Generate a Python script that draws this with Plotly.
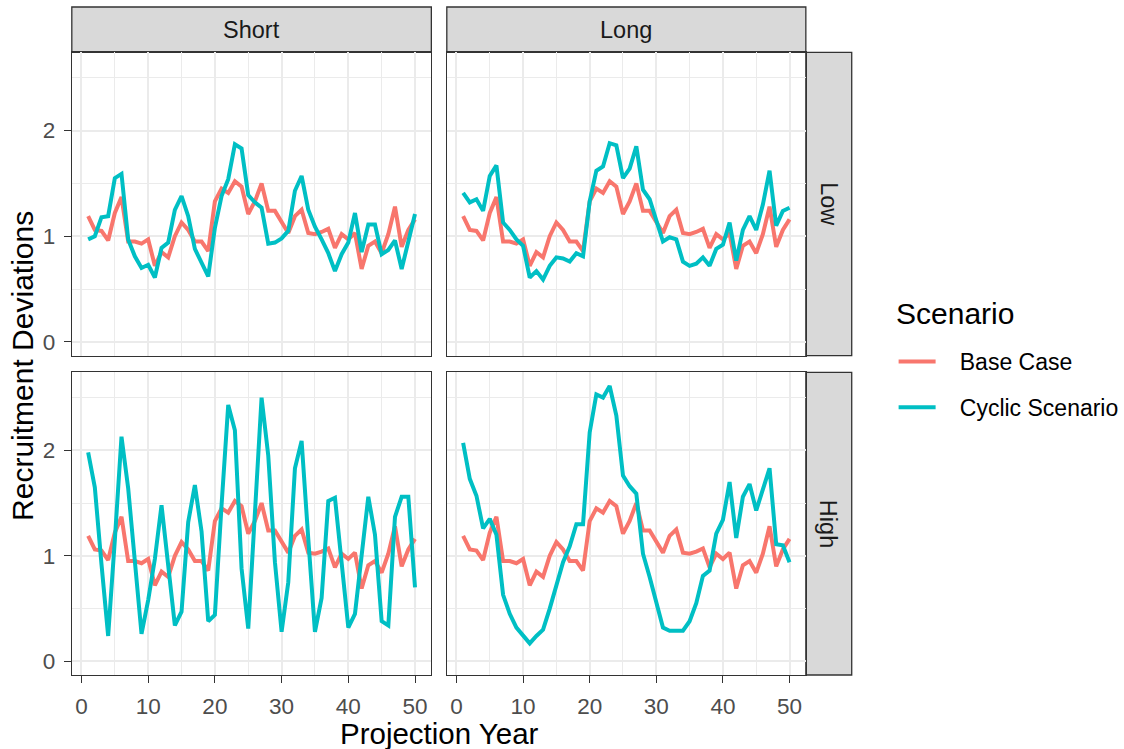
import plotly.graph_objects as go

# ---------------- data ----------------
years = list(range(1, 51))

base_case = [1.19, 1.06, 1.05, 0.96, 1.22, 1.37, 0.95, 0.95, 0.93, 0.97,
             0.72, 0.85, 0.80, 1.00, 1.13, 1.06, 0.95, 0.95, 0.86, 1.33,
             1.45, 1.41, 1.52, 1.47, 1.21, 1.33, 1.50, 1.24, 1.24, 1.14,
             1.03, 1.19, 1.25, 1.03, 1.02, 1.04, 1.07, 0.89, 1.02, 0.97,
             1.03, 0.69, 0.91, 0.95, 0.84, 1.02, 1.28, 0.90, 1.06, 1.16]

cyclic_short_low = [0.97, 1.00, 1.18, 1.19, 1.55, 1.59, 0.97, 0.81, 0.70, 0.73,
                    0.61, 0.89, 0.94, 1.25, 1.38, 1.19, 0.88, 0.76, 0.62, 1.08,
                    1.38, 1.54, 1.87, 1.83, 1.39, 1.32, 1.27, 0.93, 0.94, 0.98,
                    1.05, 1.43, 1.57, 1.25, 1.09, 0.97, 0.84, 0.67, 0.83, 0.94,
                    1.22, 0.85, 1.11, 1.11, 0.83, 0.87, 0.96, 0.69, 0.94, 1.21]

cyclic_long_low = [1.41, 1.32, 1.35, 1.24, 1.57, 1.67, 1.13, 1.06, 0.97, 0.91,
                   0.61, 0.67, 0.59, 0.72, 0.80, 0.79, 0.76, 0.84, 0.81, 1.33,
                   1.62, 1.66, 1.88, 1.86, 1.55, 1.64, 1.85, 1.44, 1.35, 1.14,
                   0.95, 0.99, 0.97, 0.76, 0.72, 0.74, 0.80, 0.72, 0.88, 0.92,
                   1.13, 0.77, 1.06, 1.19, 1.06, 1.30, 1.62, 1.10, 1.24, 1.27]

cyclic_short_high = [1.98, 1.65, 0.92, 0.24, 1.15, 2.13, 1.64, 0.94, 0.26, 0.58,
                     0.97, 1.48, 0.91, 0.34, 0.47, 1.32, 1.67, 1.23, 0.38, 0.44,
                     1.48, 2.43, 2.19, 0.88, 0.31, 1.38, 2.50, 1.95, 0.94, 0.28,
                     0.75, 1.83, 2.09, 1.16, 0.28, 0.60, 1.52, 1.55, 0.94, 0.32,
                     0.45, 1.00, 1.56, 1.20, 0.38, 0.34, 1.37, 1.56, 1.56, 0.70]

cyclic_long_high = [2.07, 1.73, 1.57, 1.26, 1.35, 1.20, 0.63, 0.45, 0.32, 0.24,
                    0.17, 0.24, 0.30, 0.50, 0.72, 0.94, 1.09, 1.30, 1.30, 2.17,
                    2.53, 2.50, 2.61, 2.33, 1.76, 1.66, 1.59, 1.02, 0.80, 0.55,
                    0.32, 0.29, 0.29, 0.29, 0.38, 0.55, 0.81, 0.86, 1.21, 1.34,
                    1.70, 1.17, 1.56, 1.68, 1.43, 1.64, 1.83, 1.11, 1.10, 0.94]

col_labels = ["Short", "Long"]
row_labels = ["Low", "High"]
series_names = ["Base Case", "Cyclic Scenario"]
legend_title = "Scenario"
x_ticks = [0, 10, 20, 30, 40, 50]
y_ticks = [0, 1, 2]

# ---------------- style ----------------
W, H = 1124, 749
FONT = "Liberation Sans, Arial, sans-serif"
RED, TEAL = "#F8766D", "#00BFC4"
GRID = "#EBEBEB"
BORDER = "#333333"
STRIP = "#D9D9D9"
NB = "\u00a0"

px = lambda v: v / W
py = lambda v: 1 - v / H

col_dom = [(72, 432.5), (448, 808)]
row_dom = [(52.3, 355.7), (372.3, 675)]
strip_top = (7, 52.3)
strip_right = (808, 854)

panels = {
    (0, 0): cyclic_short_low,
    (0, 1): cyclic_long_low,
    (1, 0): cyclic_short_high,
    (1, 1): cyclic_long_high,
}

fig = go.Figure()
layout_axes = {}
idx = 0
for r in range(2):
    for c in range(2):
        idx += 1
        xa = "x" if idx == 1 else f"x{idx}"
        ya = "y" if idx == 1 else f"y{idx}"
        fig.add_trace(go.Scatter(x=years, y=base_case, mode="lines",
                                 name=NB * 3 + series_names[0],
                                 line=dict(color=RED, width=4), xaxis=xa, yaxis=ya,
                                 legendgroup="a", showlegend=(idx == 1)))
        fig.add_trace(go.Scatter(x=years, y=panels[(r, c)], mode="lines",
                                 name=NB * 3 + series_names[1],
                                 line=dict(color=TEAL, width=4), xaxis=xa, yaxis=ya,
                                 legendgroup="b", showlegend=(idx == 1)))
        x0, x1 = col_dom[c]
        y0, y1 = row_dom[r]
        bottom = (r == 1)
        left = (c == 0)
        layout_axes["xaxis" if idx == 1 else f"xaxis{idx}"] = dict(
            domain=[px(x0), px(x1)], anchor=ya, range=[-1.45, 52.45],
            tickvals=x_ticks, showticklabels=bottom, ticks="outside" if bottom else "",
            ticklen=7, tickwidth=1.2, tickcolor=BORDER, ticklabelstandoff=4,
            tickfont=dict(size=22.5, color="#4D4D4D", family=FONT),
            showgrid=True, gridcolor=GRID, gridwidth=1.6,
            minor=dict(tick0=5, dtick=10, showgrid=True, gridcolor=GRID, gridwidth=0.9),
            zeroline=False, showline=True, mirror=True, linecolor=BORDER, linewidth=1.3,
        )
        layout_axes["yaxis" if idx == 1 else f"yaxis{idx}"] = dict(
            domain=[py(y1), py(y0)], anchor=xa, range=[-0.13, 2.74],
            tickvals=y_ticks, showticklabels=left, ticks="outside" if left else "",
            ticklen=7, tickwidth=1.2, tickcolor=BORDER, ticklabelstandoff=4,
            tickfont=dict(size=22.5, color="#4D4D4D", family=FONT),
            showgrid=True, gridcolor=GRID, gridwidth=1.6,
            minor=dict(tick0=0.5, dtick=1, showgrid=True, gridcolor=GRID, gridwidth=0.9),
            zeroline=False, showline=True, mirror=True, linecolor=BORDER, linewidth=1.3,
        )

shapes = []
annotations = []
for c, lab in enumerate(col_labels):
    x0, x1 = col_dom[c]
    shapes.append(dict(type="rect", xref="paper", yref="paper",
                       x0=px(x0), x1=px(x1), y0=py(strip_top[1]), y1=py(strip_top[0]),
                       fillcolor=STRIP, line=dict(color=BORDER, width=1.3), layer="below"))
    annotations.append(dict(text=lab, xref="paper", yref="paper", x=px((x0 + x1) / 2),
                            y=py((strip_top[0] + strip_top[1]) / 2), showarrow=False,
                            xanchor="center", yanchor="middle",
                            font=dict(size=23.5, color="#1A1A1A", family=FONT)))
for r, lab in enumerate(row_labels):
    y0, y1 = row_dom[r]
    shapes.append(dict(type="rect", xref="paper", yref="paper",
                       x0=px(strip_right[0]), x1=px(strip_right[1]), y0=py(y1), y1=py(y0),
                       fillcolor=STRIP, line=dict(color=BORDER, width=1.3), layer="below"))
    annotations.append(dict(text=lab, xref="paper", yref="paper",
                            x=px((strip_right[0] + strip_right[1]) / 2),
                            y=py((y0 + y1) / 2), showarrow=False, textangle=90,
                            xanchor="center", yanchor="middle",
                            font=dict(size=23.5, color="#1A1A1A", family=FONT)))

annotations.append(dict(text="Recruitment Deviations", xref="paper", yref="paper",
                        x=px(22), y=py(366), showarrow=False, textangle=-90,
                        xanchor="center", yanchor="middle",
                        font=dict(size=30, color="#000000", family=FONT)))
annotations.append(dict(text="Projection Year", xref="paper", yref="paper",
                        x=px(441), y=py(733), showarrow=False,
                        xanchor="center", yanchor="middle",
                        font=dict(size=29.5, color="#000000", family=FONT)))
annotations.append(dict(text=legend_title, xref="paper", yref="paper",
                        x=px(896), y=py(313), showarrow=False,
                        xanchor="left", yanchor="middle",
                        font=dict(size=30, color="#000000", family=FONT)))

fig.update_layout(
    width=W, height=H, margin=dict(l=0, r=0, t=0, b=0),
    paper_bgcolor="white", plot_bgcolor="white",
    font=dict(family=FONT),
    shapes=shapes, annotations=annotations,
    legend=dict(x=px(896), xanchor="left", y=py(340), yanchor="top",
                bgcolor="rgba(0,0,0,0)", traceorder="grouped", tracegroupgap=13,
                itemwidth=37,
                font=dict(size=23, color="#000000", family=FONT)),
    **layout_axes,
)

fig.write_html("out.html", config={"displayModeBar": False},
               post_script="document.body.style.margin='0px';")
